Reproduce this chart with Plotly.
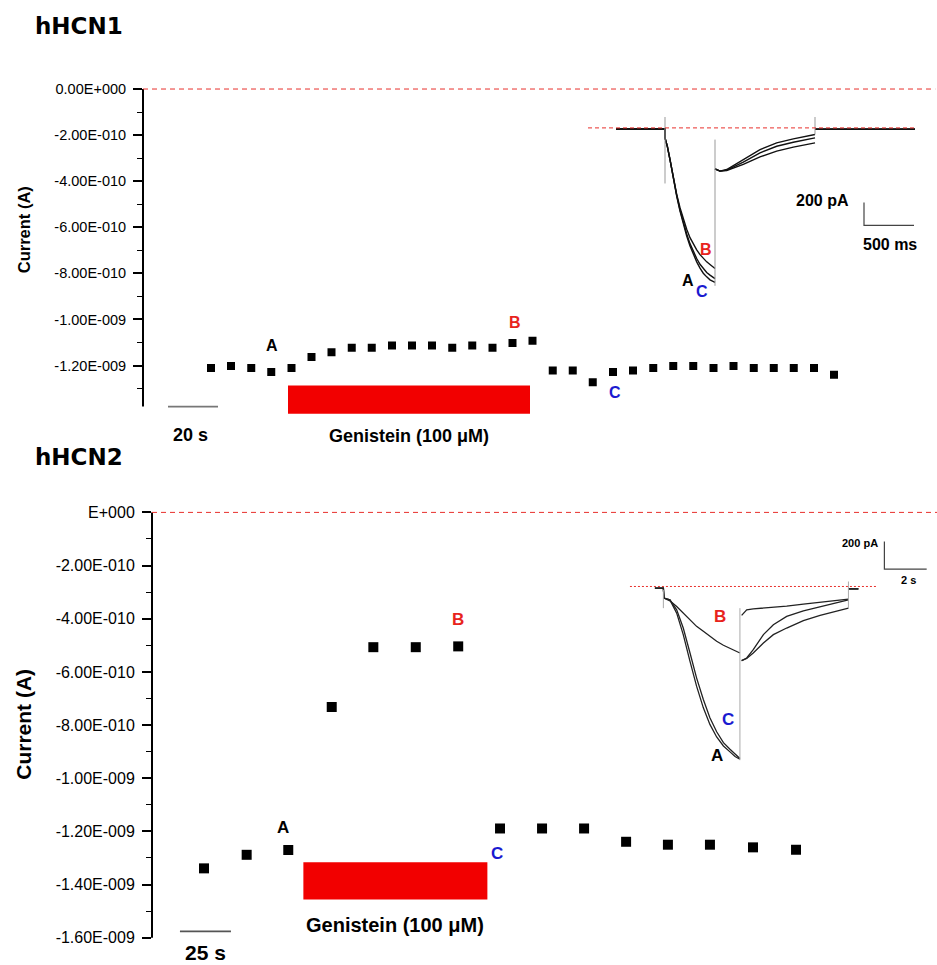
import plotly.graph_objects as go

W, H = 937, 965

# ---------------- hHCN1 time course ----------------
hcn1_time_s = [27.2, 35.2, 43.3, 51.3, 59.4, 67.4, 75.4, 83.5, 91.5, 99.6, 107.6, 115.6,
               123.7, 131.7, 139.8, 147.8, 155.8, 163.9, 171.9, 179.9, 188.0, 196.0,
               204.1, 212.1, 220.1, 228.2, 236.2, 244.3, 252.3, 260.3, 268.4, 276.4]
hcn1_current_A = [-1.211e-9, -1.202e-9, -1.211e-9, -1.228e-9, -1.211e-9, -1.163e-9, -1.142e-9,
                  -1.123e-9, -1.123e-9, -1.113e-9, -1.113e-9, -1.113e-9, -1.123e-9, -1.113e-9,
                  -1.123e-9, -1.102e-9, -1.092e-9, -1.221e-9, -1.221e-9, -1.272e-9, -1.228e-9,
                  -1.221e-9, -1.211e-9, -1.202e-9, -1.202e-9, -1.211e-9, -1.202e-9, -1.211e-9,
                  -1.211e-9, -1.211e-9, -1.211e-9, -1.240e-9]
hcn1_yticks = [0, -2e-10, -4e-10, -6e-10, -8e-10, -1e-9, -1.2e-9]
hcn1_yticktext = ["0.00E+000", "-2.00E-010", "-4.00E-010", "-6.00E-010",
                  "-8.00E-010", "-1.00E-009", "-1.20E-009"]
hcn1_minor_ticks = [-1e-10, -3e-10, -5e-10, -7e-10, -9e-10, -1.1e-9, -1.3e-9]
hcn1_genistein_s = [58.0, 154.8]
hcn1_genistein_A = [-1.286e-9, -1.409e-9]
hcn1_scalebar_s = [10.0, 30.0]

# ---------------- hHCN2 time course ----------------
hcn2_time_s = [25.5, 46.4, 66.8, 88.1, 108.5, 129.3, 150.1, 170.6, 191.2, 211.8,
               232.4, 252.9, 273.5, 294.6, 315.7]
hcn2_current_A = [-1.339e-9, -1.288e-9, -1.270e-9, -0.732e-9, -0.507e-9, -0.507e-9,
                  -0.504e-9, -1.189e-9, -1.189e-9, -1.189e-9, -1.239e-9, -1.250e-9,
                  -1.250e-9, -1.260e-9, -1.269e-9]
hcn2_yticks = [0, -2e-10, -4e-10, -6e-10, -8e-10, -1e-9, -1.2e-9, -1.4e-9, -1.6e-9]
hcn2_yticktext = ["E+000", "-2.00E-010", "-4.00E-010", "-6.00E-010", "-8.00E-010",
                  "-1.00E-009", "-1.20E-009", "-1.40E-009", "-1.60E-009"]
hcn2_minor_ticks = [-1e-10, -3e-10, -5e-10, -7e-10, -9e-10, -1.1e-9, -1.3e-9, -1.5e-9]
hcn2_genistein_s = [74.2, 164.4]
hcn2_genistein_A = [-1.316e-9, -1.456e-9]
hcn2_scalebar_s = [13.7, 38.7]

# ---------------- hHCN1 inset traces (ms, pA) ----------------
in1_pre_ms = [0, 490]
in1_pre_pA = [-9, -9]
in1_act_ms = [490, 513, 540, 573, 607, 640, 673, 707, 740, 773, 807, 840, 873, 907, 940, 990]
in1_act_A_pA = [-87, -160, -276, -450, -595, -726, -841, -943, -1030, -1102, -1169, -1224,
                -1268, -1300, -1326, -1349]
in1_act_B_pA = [-87, -160, -276, -435, -580, -697, -798, -885, -958, -1016, -1065, -1106,
                -1138, -1169, -1192, -1227]
in1_act_C_pA = [-87, -160, -276, -445, -588, -715, -828, -925, -1010, -1080, -1140, -1190,
                -1230, -1262, -1285, -1315]
in1_tail_ms = [990, 1040, 1107, 1273, 1440, 1607, 1773, 1990]
in1_tail_A_pA = [-357, -377, -372, -319, -253, -203, -168, -131]
in1_tail_B_pA = [-357, -377, -363, -276, -189, -131, -96, -58]
in1_tail_C_pA = [-357, -377, -368, -299, -218, -160, -125, -87]
in1_post_ms = [1990, 2990]
in1_post_pA = [-12, -12]
in1_artifact_ms = [490, 990, 1990]
in1_artifact_top_pA = [95, -102, 95]
in1_artifact_bot_pA = [-485, -1378, -58]
in1_zero_ms = [-280, 2990]

# ---------------- hHCN2 inset traces (s, pA) ----------------
in2_pre_s = [-0.43, -0.03]
in2_pre_pA = [-12, -12]
in2_act_s = [0, 0.28, 0.60, 0.91, 1.23, 1.54, 1.86, 2.17, 2.49, 2.81, 3.12, 3.36, 3.59]
in2_act_A_pA = [-84, -97, -193, -349, -542, -722, -879, -999, -1090, -1155, -1198, -1232, -1251]
in2_act_B_pA = [-84, -104, -145, -193, -241, -289, -325, -361, -397, -426, -450, -470, -482]
in2_act_C_pA = [-84, -97, -169, -301, -482, -662, -819, -951, -1052, -1131, -1179, -1210, -1246]
in2_tail_s = [3.67, 3.91, 4.22, 4.70, 5.17, 5.80, 6.59, 7.38, 8.72]
in2_tail_A_pA = [-537, -518, -458, -349, -277, -217, -176, -145, -97]
in2_tail_B_pA = [-209, -169, -162, -157, -152, -143, -128, -113, -92]
in2_tail_C_pA = [-537, -522, -482, -409, -349, -301, -248, -209, -157]
in2_post_s = [8.72, 9.19]
in2_post_pA = [-17, -17]
in2_artifact_s = [-0.03, 3.59, 8.72]
in2_artifact_top_pA = [-24, -157, 36]
in2_artifact_bot_pA = [-157, -1258, -157]
in2_zero_s = [-1.61, 10.06]


def xdom(x0, x1):
    return [x0 / W, x1 / W]


def ydom(ytop, ybot):
    return [1 - ybot / H, 1 - ytop / H]


fig = go.Figure()

# main time-course markers
fig.add_trace(go.Scatter(x=hcn1_time_s, y=hcn1_current_A, mode="markers",
                         marker=dict(symbol="square", size=8, color="black"),
                         xaxis="x", yaxis="y", showlegend=False))
fig.add_trace(go.Scatter(x=hcn2_time_s, y=hcn2_current_A, mode="markers",
                         marker=dict(symbol="square", size=10, color="black"),
                         xaxis="x2", yaxis="y2", showlegend=False))


def sweep(pre_x, pre_y, act_x, act_y, tail_x, tail_y, post_x, post_y):
    xs = list(pre_x) + list(act_x) + [None] + list(tail_x) + [None] + list(post_x)
    ys = list(pre_y) + list(act_y) + [None] + list(tail_y) + [None] + list(post_y)
    return xs, ys


# inset 1 sweeps
for act, tail in [(in1_act_A_pA, in1_tail_A_pA), (in1_act_B_pA, in1_tail_B_pA),
                  (in1_act_C_pA, in1_tail_C_pA)]:
    xs, ys = sweep(in1_pre_ms, in1_pre_pA, in1_act_ms, act, in1_tail_ms, tail,
                   in1_post_ms, in1_post_pA)
    fig.add_trace(go.Scatter(x=xs, y=ys, mode="lines", line=dict(color="#111", width=1.4),
                             xaxis="x3", yaxis="y3", showlegend=False, connectgaps=False))
ax, ay = [], []
for t, a, b in zip(in1_artifact_ms, in1_artifact_top_pA, in1_artifact_bot_pA):
    ax += [t, t, None]
    ay += [a, b, None]
fig.add_trace(go.Scatter(x=ax, y=ay, mode="lines", line=dict(color="#999", width=1),
                         xaxis="x3", yaxis="y3", showlegend=False))

# inset 2 sweeps
for act, tail in [(in2_act_A_pA, in2_tail_A_pA), (in2_act_B_pA, in2_tail_B_pA),
                  (in2_act_C_pA, in2_tail_C_pA)]:
    xs, ys = sweep(in2_pre_s, in2_pre_pA, in2_act_s, act, in2_tail_s, tail,
                   in2_post_s, in2_post_pA)
    fig.add_trace(go.Scatter(x=xs, y=ys, mode="lines", line=dict(color="#222", width=1.3),
                             xaxis="x4", yaxis="y4", showlegend=False))
bx, by = [], []
for t, a, b in zip(in2_artifact_s, in2_artifact_top_pA, in2_artifact_bot_pA):
    bx += [t, t, None]
    by += [a, b, None]
fig.add_trace(go.Scatter(x=bx, y=by, mode="lines", line=dict(color="#aaa", width=1),
                         xaxis="x4", yaxis="y4", showlegend=False))

tickfont1 = dict(family="Liberation Sans, Arial", size=14.5, color="black")
tickfont2 = dict(family="Liberation Sans, Arial", size=16, color="black")

fig.update_layout(
    width=W, height=H, margin=dict(l=0, r=0, t=0, b=0),
    paper_bgcolor="white", plot_bgcolor="rgba(0,0,0,0)",
    xaxis=dict(domain=xdom(143, 935.5), range=[0, 317], visible=False, anchor="y"),
    yaxis=dict(domain=ydom(77.74, 419.9), range=[-1.43e-9, 0.05e-9], anchor="x",
               tickmode="array", tickvals=hcn1_yticks, ticktext=hcn1_yticktext,
               ticks="outside", ticklen=9, tickwidth=1.6, tickcolor="black",
               showline=False, showgrid=False, zeroline=False, tickfont=tickfont1,
               ticklabelstandoff=4,
               minor=dict(tickmode="array", tickvals=hcn1_minor_ticks, ticks="outside",
                          ticklen=5, tickwidth=1.4, tickcolor="black", showgrid=False)),
    xaxis2=dict(domain=xdom(152, 937), range=[0, 384.8], visible=False, anchor="y2"),
    yaxis2=dict(domain=ydom(500.67, 946), range=[-1.62e-9, 0.05e-9], anchor="x2",
                tickmode="array", tickvals=hcn2_yticks, ticktext=hcn2_yticktext,
                ticks="outside", ticklen=9, tickwidth=1.6, tickcolor="black",
                showline=False, showgrid=False, zeroline=False, tickfont=tickfont2,
                ticklabelstandoff=4,
                minor=dict(tickmode="array", tickvals=hcn2_minor_ticks, ticks="outside",
                           ticklen=5, tickwidth=1.4, tickcolor="black", showgrid=False)),
    xaxis3=dict(domain=xdom(586, 916), range=[-300, 3000], visible=False, anchor="y3"),
    yaxis3=dict(domain=ydom(111.06, 294.97), range=[-1450, 150], visible=False, anchor="x3"),
    xaxis4=dict(domain=xdom(625.93, 930.49), range=[-1.8, 12.6], visible=False, anchor="y4"),
    yaxis4=dict(domain=ydom(535.67, 771.13), range=[-1320, 380], visible=False, anchor="x4"),
)

shapes = []
# y axis lines
shapes.append(dict(type="line", xref="paper", yref="y", x0=143 / W, x1=143 / W,
                   y0=0, y1=-1.378e-9, line=dict(color="black", width=2)))
shapes.append(dict(type="line", xref="paper", yref="y2", x0=152 / W, x1=152 / W,
                   y0=0, y1=-1.6e-9, line=dict(color="black", width=2)))
# zero lines
shapes.append(dict(type="line", xref="x", yref="y", x0=0, x1=317, y0=0, y1=0,
                   line=dict(color="#e8302c", width=1, dash="5px,4px")))
shapes.append(dict(type="line", xref="x2", yref="y2", x0=0, x1=384.8, y0=0, y1=0,
                   line=dict(color="#e8302c", width=1, dash="5px,4px")))
shapes.append(dict(type="line", xref="x3", yref="y3", x0=in1_zero_ms[0], x1=in1_zero_ms[1],
                   y0=0, y1=0, line=dict(color="#e8302c", width=1, dash="4px,3px")))
shapes.append(dict(type="line", xref="x4", yref="y4", x0=in2_zero_s[0], x1=in2_zero_s[1],
                   y0=0, y1=0, line=dict(color="#e8302c", width=1, dash="2px,2px")))
# genistein bars
shapes.append(dict(type="rect", xref="x", yref="y", x0=hcn1_genistein_s[0],
                   x1=hcn1_genistein_s[1], y0=hcn1_genistein_A[0], y1=hcn1_genistein_A[1],
                   fillcolor="#f20000", line=dict(width=0)))
shapes.append(dict(type="rect", xref="x2", yref="y2", x0=hcn2_genistein_s[0],
                   x1=hcn2_genistein_s[1], y0=hcn2_genistein_A[0], y1=hcn2_genistein_A[1],
                   fillcolor="#f20000", line=dict(width=0)))
# time scale bars
shapes.append(dict(type="line", xref="x", yref="y", x0=hcn1_scalebar_s[0],
                   x1=hcn1_scalebar_s[1], y0=-1.378e-9, y1=-1.378e-9,
                   line=dict(color="#777", width=1.6)))
shapes.append(dict(type="line", xref="x2", yref="y2", x0=hcn2_scalebar_s[0],
                   x1=hcn2_scalebar_s[1], y0=-1.576e-9, y1=-1.576e-9,
                   line=dict(color="#555", width=1.6)))
# inset scale bars
shapes.append(dict(type="path", xref="x3", yref="y3",
                   path="M 2480,-650 L 2480,-850 L 2980,-850",
                   line=dict(color="#444", width=1.2)))
shapes.append(dict(type="path", xref="x4", yref="y4",
                   path="M 10.42,325 L 10.42,125 L 12.42,125",
                   line=dict(color="#444", width=1.2)))
fig.update_layout(shapes=shapes)

BOLD = "Liberation Sans, Arial"
ann = []


def txt(text, x, y, xref, yref, size, color="black", family=BOLD, bold=True,
        xanchor="center", yanchor="middle", angle=0):
    ann.append(dict(text=("<b>%s</b>" % text) if bold else text, x=x, y=y, xref=xref,
                    yref=yref, showarrow=False, xanchor=xanchor, yanchor=yanchor,
                    textangle=angle, font=dict(family=family, size=size, color=color)))


# titles
txt("hHCN1", 33 / W, 1 - 26 / H, "paper", "paper", 23, family="DejaVu Sans", xanchor="left")
txt("hHCN2", 33 / W, 1 - 458 / H, "paper", "paper", 23, family="DejaVu Sans", xanchor="left")
# y titles
txt("Current (A)", 24 / W, 1 - 231 / H, "paper", "paper", 16.5, angle=-90)
txt("Current (A)", 24 / W, 1 - 727 / H, "paper", "paper", 21, angle=-90)
# top panel text
txt("A", 51.6, -1.1146e-9, "x", "y", 16)
txt("B", 148.8, -1.015e-9, "x", "y", 16, color="#e8231c")
txt("C", 188.8, -1.318e-9, "x", "y", 16, color="#1a1ad0")
txt("20 s", 18.8, 1 - 436 / H, "x", "paper", 18)
txt("Genistein (100 \u03bcM)", 106.4, 1 - 437 / H, "x", "paper", 18)
# bottom panel text
txt("A", 64.2, -1.185e-9, "x2", "y2", 17)
txt("B", 150.1, -4.01e-10, "x2", "y2", 17, color="#e8231c")
txt("C", 169.1, -1.2825e-9, "x2", "y2", 17, color="#1a1ad0")
txt("25 s", 26.0, 1 - 955 / H, "x2", "paper", 21)
txt("Genistein (100 \u03bcM)", 119.3, 1 - 928 / H, "x2", "paper", 20)
# inset 1 text
txt("200 pA", 2350, -637, "x3", "y3", 16, xanchor="right")
txt("500 ms", 2740, -1015, "x3", "y3", 16)
txt("A", 723, -1334, "x3", "y3", 16)
txt("B", 897, -1059, "x3", "y3", 16, color="#e8231c")
txt("C", 857, -1430, "x3", "y3", 16, color="#1a1ad0")
# inset 2 text
txt("200 pA", 10.21, 313, "x4", "y4", 11, xanchor="right")
txt("2 s", 11.55, 48, "x4", "y4", 11)
txt("B", 2.65, -214, "x4", "y4", 17, color="#e8231c")
txt("C", 3.04, -963, "x4", "y4", 17, color="#1a1ad0")
txt("A", 2.49, -1227, "x4", "y4", 17)
fig.update_layout(annotations=ann)

fig.write_html("out.html", config={"displayModeBar": False},
               post_script="document.body.style.margin='0px';document.body.style.padding='0px';")
